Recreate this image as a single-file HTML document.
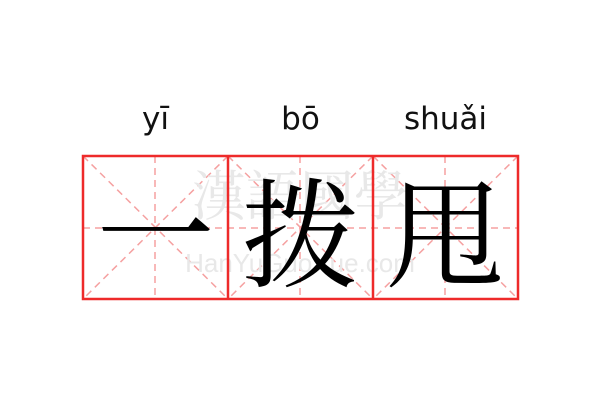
<!DOCTYPE html>
<html><head><meta charset="utf-8"><style>
body{margin:0;width:600px;height:400px;background:#fff;overflow:hidden;position:relative}
.py{position:absolute;top:101px;width:145px;text-align:center;font:31px "DejaVu Sans","Liberation Sans",sans-serif;color:#111}
.ch{position:absolute;top:160px;width:145px;text-align:center;font:118px/135px "Noto Serif CJK SC","WenQuanYi Zen Hei",serif;color:#000}
</style></head><body>
<div class="py" style="left:83px">yī</div>
<div class="py" style="left:228px">bō</div>
<div class="py" style="left:373px">shuǎi</div>
<svg width="600" height="400" style="position:absolute;left:0;top:0">
<g stroke="#f5a0a0" stroke-width="1.5" stroke-dasharray="7,5" fill="none">
<line x1="83" y1="228" x2="518" y2="228"/>
<line x1="155" y1="156" x2="155" y2="299"/>
<line x1="300" y1="156" x2="300" y2="299"/>
<line x1="445" y1="156" x2="445" y2="299"/>
<line x1="83" y1="156" x2="228" y2="299"/><line x1="228" y1="156" x2="83" y2="299"/>
<line x1="228" y1="156" x2="373" y2="299"/><line x1="373" y1="156" x2="228" y2="299"/>
<line x1="373" y1="156" x2="518" y2="299"/><line x1="518" y1="156" x2="373" y2="299"/>
</g>
<text x="300" y="215" text-anchor="middle" font-family="Noto Serif CJK TC,serif" font-size="54" fill="#e8e8e8">漢語國學</text>
<text x="300" y="272" text-anchor="middle" font-family="Liberation Sans,sans-serif" font-size="26" fill="#e8e8e8">HanYuGuoXue.com</text>
<g stroke="#ee2a2a" stroke-width="2.5" fill="none">
<rect x="83" y="156" width="435" height="143"/>
<line x1="228" y1="156" x2="228" y2="299"/>
<line x1="373" y1="156" x2="373" y2="299"/>
</g>
</svg>
<div class="ch" style="left:83px">一</div>
<div class="ch" style="left:228px">拨</div>
<div class="ch" style="left:373px">甩</div>
</body></html>
